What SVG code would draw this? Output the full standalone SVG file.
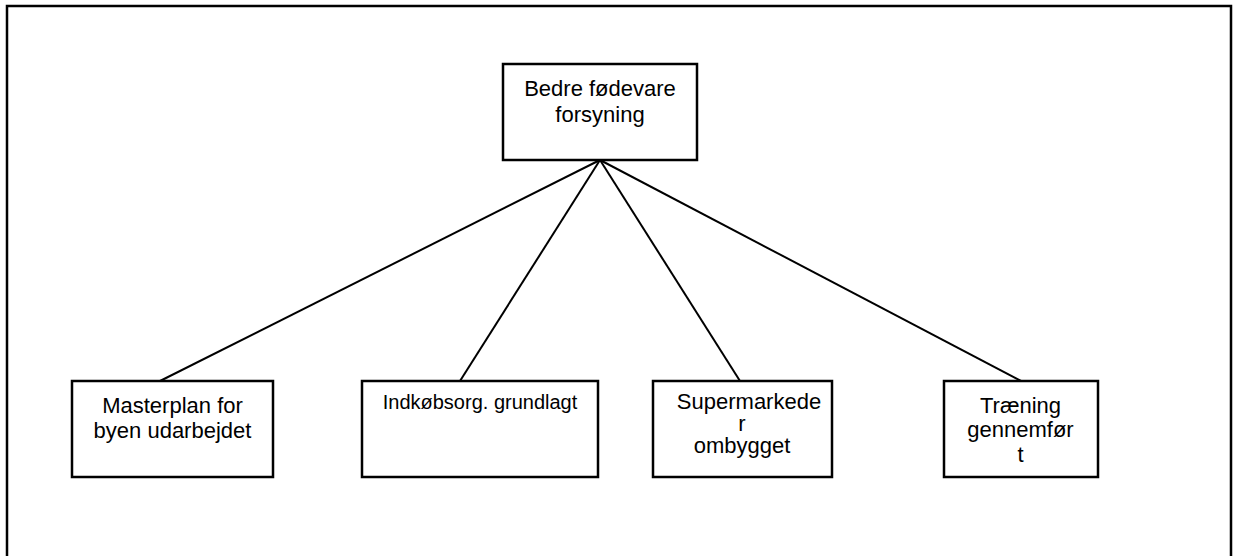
<svg xmlns="http://www.w3.org/2000/svg" width="1233" height="556" viewBox="0 0 1233 556">
<style>
.box{fill:#fff;stroke:#000;stroke-width:2.5}
.t{font-family:"Liberation Sans",Arial,sans-serif;font-size:22px;fill:#000;text-anchor:middle}
.s{font-size:20px}
.c line{stroke:#000;stroke-width:2}
</style>
<rect width="1233" height="556" fill="#fff"/>
<path d="M7 560 V6 H1231 V560" fill="none" stroke="#000" stroke-width="2.5"/>
<g id="connectors" class="c">
<line x1="600" y1="160" x2="160" y2="381"/>
<line x1="600" y1="160" x2="460" y2="381"/>
<line x1="600" y1="160" x2="740" y2="381"/>
<line x1="600" y1="160" x2="1021" y2="381"/>
</g>
<g id="root">
<rect class="box" x="503" y="64" width="194" height="96"/>
<text class="t" x="600" y="96">Bedre fødevare</text>
<text class="t" x="600" y="122">forsyning</text>
</g>
<g id="n1">
<rect class="box" x="72" y="381" width="201" height="96"/>
<text class="t" x="172.5" y="413">Masterplan for</text>
<text class="t" x="172.5" y="438">byen udarbejdet</text>
</g>
<g id="n2">
<rect class="box" x="362" y="381" width="236" height="96"/>
<text class="t s" x="480" y="409">Indkøbsorg. grundlagt</text>
</g>
<g id="n3">
<rect class="box" x="653" y="381" width="179" height="96"/>
<text class="t" x="749" y="409">Supermarkede</text>
<text class="t" x="742" y="431">r</text>
<text class="t" x="742" y="453">ombygget</text>
</g>
<g id="n4">
<rect class="box" x="944" y="381" width="154" height="96"/>
<text class="t" x="1020.5" y="413">Træning</text>
<text class="t" x="1020.5" y="437">gennemfør</text>
<text class="t" x="1020.5" y="462">t</text>
</g>
</svg>
